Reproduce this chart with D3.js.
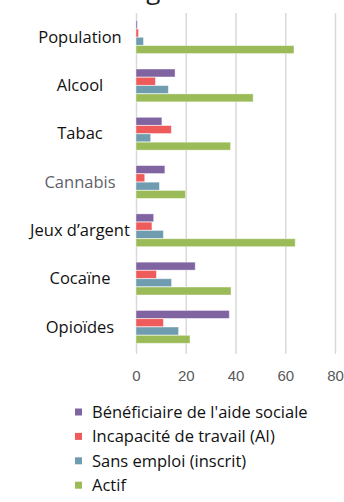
<!DOCTYPE html>
<html>
<head>
<meta charset="utf-8">
<script src="https://cdn.jsdelivr.net/npm/d3@7"></script>
<style>
  body { margin: 0; background: #fff; }
  svg { display: block; font-family: "Open Sans", sans-serif; }
  .grid line { stroke: #d9d9d9; stroke-width: 1.5; }
  .grid path { display: none; }
  .x.axis path { display: none; }
  .x.axis line { stroke: #d9d9d9; }
  .x.axis text { fill: #595959; font-size: 15px; }
</style>
</head>
<body>
<div class="bar-chart-container"></div>
<script>
// Data
const categories = ['Population', 'Alcool', 'Tabac', 'Cannabis', "Jeux d\u2019argent", 'Cocaïne', 'Opioïdes'];
const seriesNames = ["Bénéficiaire de l'aide sociale", 'Incapacité de travail (AI)', 'Sans emploi (inscrit)', 'Actif'];
const seriesColors = ['#8064a2', '#ef5a5a', '#6f9cae', '#9bbb59'];
const aideSociale = [0.5, 15.7, 10.4, 11.6, 7.1, 23.8, 37.5];
const incapacite = [1, 7.8, 14.2, 3.5, 6.4, 8.2, 11];
const sansEmploi = [3, 13, 5.9, 9.4, 11, 14.3, 17.1];
const actif = [63.5, 47.1, 38, 19.9, 64, 38.2, 21.7];
const xTicks = [0, 20, 40, 60, 80];

const seriesValues = [aideSociale, incapacite, sansEmploi, actif];

function setupCanvas(){
    const svg_width = 344;
    const svg_height = 502;
    const plot = {left: 136, right: 335, top: 13, bottom: 351};

    const svg = d3.select('.bar-chart-container').append('svg')
        .attr('width', svg_width).attr('height', svg_height);

    // title, cut off by the top edge as in the source image
    svg.append('text').attr('x', 175).attr('y', -1)
        .attr('text-anchor', 'end').style('font-size', '26px').style('fill', '#222')
        .text('Situation de charge');

    const xScale = d3.scaleLinear([0, 80], [plot.left, plot.right]);
    const yScale = d3.scaleBand().domain(categories)
        .range([plot.top, plot.bottom]).paddingInner(0.32).paddingOuter(0.16);
    const ySub = d3.scaleBand().domain(d3.range(seriesNames.length))
        .range([0, yScale.bandwidth()]).paddingInner(0.04);

    // gridlines
    svg.append('g').attr('class', 'grid')
        .attr('transform', `translate(0,${plot.bottom + 2})`)
        .call(d3.axisTop(xScale).tickValues(xTicks).tickSize(plot.bottom + 2 - plot.top).tickFormat(''));

    // x axis
    svg.append('g').attr('class', 'x axis')
        .attr('transform', `translate(0,${plot.bottom})`)
        .call(d3.axisBottom(xScale).tickValues(xTicks).tickSize(3).tickPadding(16));

    // bars
    const groups = svg.selectAll('.cat').data(categories).enter()
        .append('g').attr('class', 'cat')
        .attr('transform', d => `translate(0,${yScale(d)})`);
    groups.selectAll('rect')
        .data((d, i) => seriesValues.map((vals, s) => ({s: s, v: vals[i]})))
        .enter().append('rect')
        .attr('x', xScale(0))
        .attr('y', d => ySub(d.s))
        .attr('width', d => xScale(d.v) - xScale(0))
        .attr('height', ySub.bandwidth())
        .style('fill', d => seriesColors[d.s])
        .style('stroke', '#fff').style('stroke-opacity', 0.5).style('stroke-width', 0.8);

    // category labels
    svg.selectAll('.cat-label').data(categories).enter()
        .append('text').attr('class', 'cat-label')
        .attr('x', 80).attr('y', d => yScale(d) + yScale.bandwidth() / 2)
        .attr('dy', '0.35em').attr('text-anchor', 'middle')
        .style('font-size', '16.5px')
        .style('fill', d => d == 'Cannabis' ? '#5f5f6b' : '#111')
        .text(d => d);

    // legend
    const legend = svg.append('g').attr('class', 'legend');
    const items = legend.selectAll('g').data(seriesNames).enter().append('g')
        .attr('transform', (d, i) => `translate(75,${412 + i * 24.4})`);
    items.append('rect').attr('x', 0).attr('y', -3.5).attr('width', 7).attr('height', 7)
        .style('fill', (d, i) => seriesColors[i]);
    items.append('text').attr('x', 17).attr('dy', '0.35em')
        .style('font-size', '16.5px').style('fill', '#111')
        .text(d => d);
}

setupCanvas();
</script>
</body>
</html>
